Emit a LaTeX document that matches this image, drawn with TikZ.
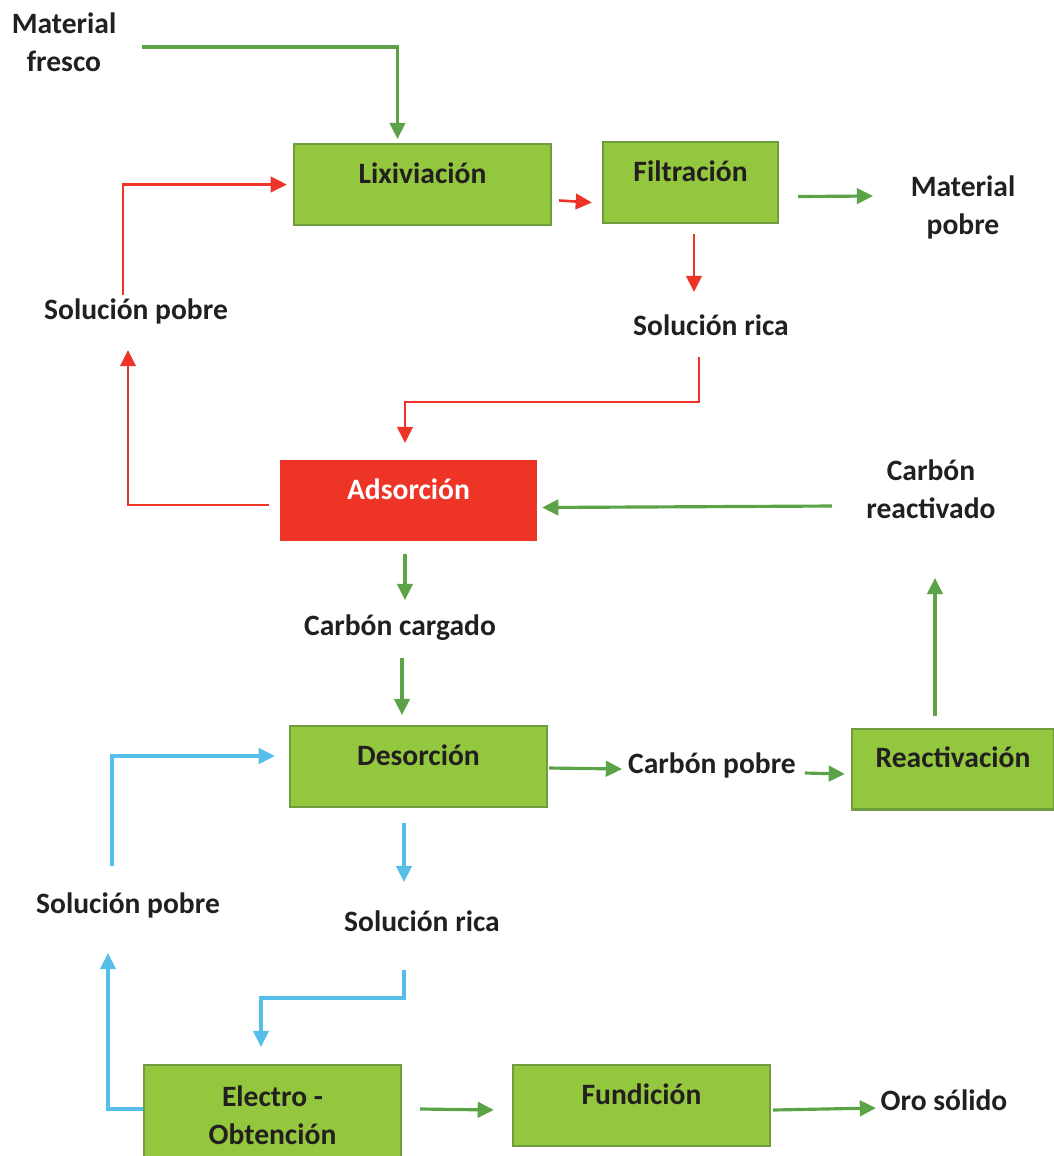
\documentclass[tikz,border=0pt]{standalone}
\usepackage{fontspec}
\usepackage{tikz}
\usepackage{xcolor}
\usetikzlibrary{arrows.meta}
\setmainfont{Carlito}

\definecolor{boxgreen}{HTML}{93C83E}
\definecolor{boxedge}{HTML}{6E9C3F}
\definecolor{arrgreen}{HTML}{5BA346}
\definecolor{arrred}{HTML}{EE3427}
\definecolor{arrblue}{HTML}{55BFEA}
\definecolor{ink}{HTML}{231F20}

\begin{document}
\begin{tikzpicture}[x=0.01cm,y=-0.01cm,
        font=\bfseries\fontsize{8.4}{10.8}\selectfont,
        proc/.style={draw=boxedge,line width=0.6pt,fill=boxgreen,text=ink,minimum width=2.57cm,inner ysep=0pt,text height=11.2pt,text depth=11.8pt},
        lbl/.style={inner sep=0pt,text=ink,align=center},
        garr/.style={arrgreen,line width=0.9pt,-{Triangle[width=4.4pt,length=4.6pt]}},
        rarr/.style={arrred,line width=0.75pt,-{Triangle[width=4.4pt,length=4.6pt]}},
        barr/.style={arrblue,line width=0.9pt,-{Triangle[width=4.4pt,length=4.6pt]}}]
        \clip (0,0) rectangle (1054,1156);
        % boxes
        \node[proc] (lix) at (422.5,184.5) {Lixiviación};
        \node[proc,minimum width=1.75cm] (fil) at (690.5,182.5) {Filtración};
        \node[proc,draw=none,fill=arrred,text=white] (ads) at (408.5,500.5) {Adsorción};
        \node[proc] (des) at (418.5,766.5) {Desorción};
        \node[proc,minimum width=2.02cm] (rea) at (953,769) {Reactivación};
        \node[proc,minimum height=1cm,text height=,text depth=,align=center] (ele) at (272.5,1115) {Electro -\\Obtención};
        \node[proc] (fun) at (641.5,1105.5) {Fundición};
        % streams
        \node[lbl] (mfr) at (64,42) {Material\\fresco};
        \node[lbl] (mpo) at (963,207) {Material\\pobre};
        \node[lbl] (solp1) at (136,311) {Solución pobre};
        \node[lbl] (solr1) at (711,325) {Solución rica};
        \node[lbl] (crea) at (931,489) {Carbón\\reactivado};
        \node[lbl] (ccar) at (400,628) {Carbón cargado};
        \node[lbl] (cpob) at (712,765) {Carbón pobre};
        \node[lbl] (solp2) at (128,905) {Solución pobre};
        \node[lbl] (solr2) at (422,921) {Solución rica};
        \node[lbl] (oro) at (944,1100) {Oro sólido};
        % leaching loop
        \draw[garr] ([shift={(78,5)}]mfr.center) -| ([shift={(-25,-4)}]lix.north);
        \draw[rarr] ([shift={(-13,-16)}]solp1.center) |- ([shift={(-6,0)}]lix.west);
        \draw[rarr] ([shift={(7,16)}]lix.east) -- ([shift={(-10,20)}]fil.west);
        \draw[garr] ([shift={(19,14)}]fil.east) -- ([shift={(-90,-11)}]mpo.center);
        \draw[rarr] ([shift={(3.5,10)}]fil.south) -- ([shift={(-17,-33)}]solr1.center);
        \draw[rarr] ([shift={(-12,32)}]solr1.center) -- ++(0,45) -| ([shift={(-3.5,-16)}]ads.north);
        \draw[rarr] ([shift={(-10,4.5)}]ads.west) -| ([shift={(-8,39)}]solp1.center);
        % carbon loop
        \draw[garr] ([shift={(-99,17)}]crea.center) -- ([shift={(4,7)}]ads.east);
        \draw[garr] ([shift={(-3.5,12)}]ads.south) -- ([shift={(5,-28)}]ccar.center);
        \draw[garr] ([shift={(2,30)}]ccar.center) -- ([shift={(-16.5,-10)}]des.north);
        \draw[garr] ([shift={(1,1.5)}]des.east) -- ([shift={(-90,4)}]cpob.center);
        \draw[garr] ([shift={(93,8)}]cpob.center) -- ([shift={(-6,5)}]rea.west);
        \draw[garr] ([shift={(-18,-12)}]rea.north) -- ([shift={(4,89)}]crea.center);
        % elution loop
        \draw[barr] ([shift={(-16,-39)}]solp2.center) |- ([shift={(-14,-10.5)}]des.west);
        \draw[barr] ([shift={(-14.5,15)}]des.south) -- ([shift={(-18,-39)}]solr2.center);
        \draw[barr] ([shift={(-18,49)}]solr2.center) -- ++(0,28) -| ([shift={(-11.5,-17)}]ele.north);
        \draw[barr] ([shift={(0,-6)}]ele.west) -| ([shift={(-20,48)}]solp2.center);
        \draw[garr] ([shift={(18,-6)}]ele.east) -- ([shift={(-18,4.5)}]fun.west);
        \draw[garr] ([shift={(2,4.5)}]fun.east) -- ([shift={(-68,8)}]oro.center);
    \end{tikzpicture}
\end{document}
